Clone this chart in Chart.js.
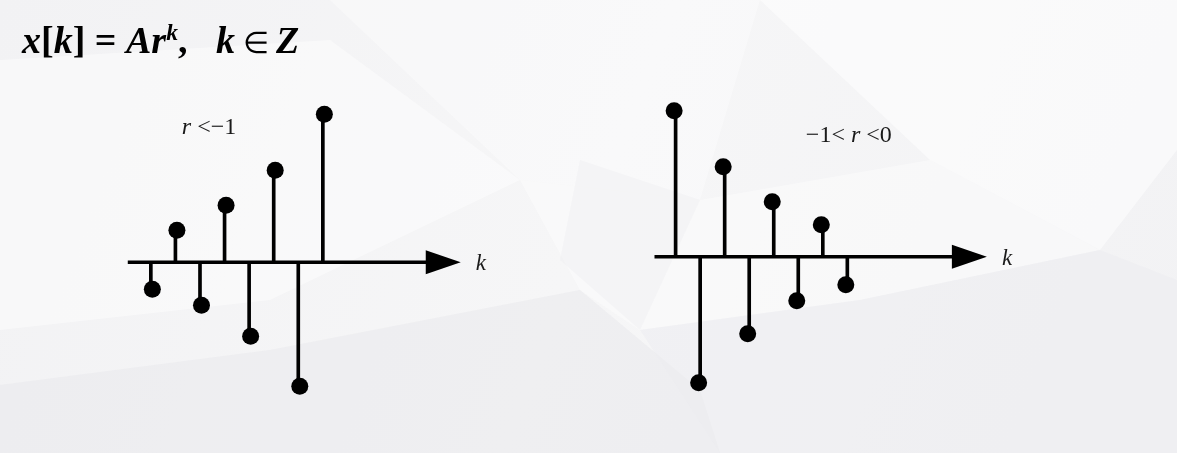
<!DOCTYPE html>
<html>
<head>
<meta charset="utf-8">
<script src="https://cdn.jsdelivr.net/npm/chart.js@4"></script>
<style>
html, body { margin: 0; padding: 0; background: #f2f2f4; overflow: hidden; }
#wrap { width: 1177px; height: 453px; position: relative; }
.txt { position: absolute; font-family: "Liberation Serif"; line-height: 1; white-space: pre; color: #1a1a1a; }
.txt span { font-style: normal; font-weight: normal; }
.txt span.i { font-style: italic; }
.txt span.b { font-weight: bold; }
.txt span.bi { font-style: italic; font-weight: bold; }
.txt span.sup { font-size: 0.62em; position: relative; top: -0.55em; }
.txt span.op { font-size: 0.8em; }
</style>
</head>
<body>
<div id="wrap">
  <canvas id="chart"></canvas>
  <div id="title" class="txt"></div>
  <div id="labelLeft" class="txt"></div>
  <div id="labelRight" class="txt"></div>
  <div id="kLeft" class="txt"></div>
  <div id="kRight" class="txt"></div>
</div>
<script>
// sample index k for both sequences
const kValues = [0, 1, 2, 3, 4, 5, 6, 7];
// x[k] = A r^k (arbitrary units)
const growingValues = [-27, 32, -43, 57, -74, 92, -124, 148];   // r < -1
const decayingValues = [146, -126, 90, -77, 55, -44, 32, -28];  // -1 < r < 0

const growingLabel = [['r', 'i'], [' <\u22121', '']];
const decayingLabel = [['\u22121< ', ''], ['r', 'i'], [' <0', '']];
const axisLabel = [['k', 'i']];

// title: x[k] = Ar^k,   k ∈ Z
const titleParts = [
    ['x', 'bi'], ['[', 'b'], ['k', 'bi'], [']', 'b'], [' = ', 'b'], ['A', 'bi'], ['r', 'bi'],
    ['k', 'bi sup'], [',', 'b'], ['\u2002\u2005', 'b'], ['k', 'bi'], [' \u2208 ', 'op'], ['Z', 'bi']
];

function stemPoints(values) {
    return kValues.map((k, i) => ({ x: k, y: values[i] }));
}

function fillText(id, runs, size) {
    const el = document.getElementById(id);
    el.style.fontSize = size + 'px';
    el.innerHTML = '';
    runs.forEach(([text, cls]) => {
        const s = document.createElement('span');
        s.className = cls;
        s.textContent = text;
        el.appendChild(s);
    });
    return el;
}

// put a text block so that its baseline sits at y
function place(id, x, baseline) {
    const el = document.getElementById(id);
    const size = parseFloat(el.style.fontSize);
    el.style.left = x + 'px';
    el.style.top = (baseline - size * 0.8375) + 'px';
}

fillText('title', titleParts, 38).style.color = '#000';
fillText('labelLeft', growingLabel, 24);
fillText('labelRight', decayingLabel, 24);
fillText('kLeft', axisLabel, 23);
fillText('kRight', axisLabel, 23);
place('title', 22, 53);

const backgroundPlugin = {
    id: 'background',
    beforeDraw(chart) {
        const ctx = chart.ctx;
        const w = chart.width, h = chart.height;
        ctx.save();
        const g = ctx.createLinearGradient(0, 0, w, h);
        g.addColorStop(0, '#f2f2f4');
        g.addColorStop(0.5, '#f6f6f7');
        g.addColorStop(1, '#f2f2f4');
        ctx.fillStyle = g;
        ctx.fillRect(0, 0, w, h);
        const polys = [
            ['rgba(255,255,255,0.45)', [[0, 60], [330, 40], [520, 180], [270, 300], [0, 330]]],
            ['rgba(255,255,255,0.4)', [[520, 180], [700, 200], [930, 160], [1100, 250], [860, 300], [640, 330], [580, 290]]],
            ['rgba(255,255,255,0.5)', [[760, 0], [1177, 0], [1177, 150], [1100, 250], [930, 160]]],
            ['rgba(232,232,236,0.5)', [[0, 385], [270, 350], [580, 290], [700, 390], [720, 453], [0, 453]]],
            ['rgba(236,236,239,0.45)', [[640, 330], [860, 300], [1100, 250], [1177, 280], [1177, 453], [720, 453]]],
            ['rgba(255,255,255,0.35)', [[330, 0], [760, 0], [700, 200], [520, 180]]],
            ['rgba(238,238,241,0.4)', [[580, 160], [700, 200], [640, 330], [560, 260]]]
        ];
        polys.forEach(([color, pts]) => {
            ctx.fillStyle = color;
            ctx.beginPath();
            pts.forEach(([px, py], i) => i ? ctx.lineTo(px, py) : ctx.moveTo(px, py));
            ctx.closePath();
            ctx.fill();
        });
        ctx.restore();
    }
};

const axesPlugin = {
    id: 'stemAxes',
    beforeDatasetsDraw(chart) {
        const ctx = chart.ctx;
        const pairs = [
            { x: chart.scales.xLeft, y: chart.scales.yLeft, from: -1, tip: 12.55, label: 'kLeft' },
            { x: chart.scales.xRight, y: chart.scales.yRight, from: -0.8, tip: 12.75, label: 'kRight' }
        ];
        ctx.save();
        ctx.strokeStyle = '#000';
        ctx.fillStyle = '#000';
        pairs.forEach(p => {
            const y0 = p.y.getPixelForValue(0);
            const x0 = p.x.getPixelForValue(p.from);
            const xt = p.x.getPixelForValue(p.tip);
            ctx.lineWidth = 3.5;
            ctx.beginPath();
            ctx.moveTo(x0, y0);
            ctx.lineTo(xt - 30, y0);
            ctx.stroke();
            ctx.beginPath();
            ctx.moveTo(xt, y0);
            ctx.lineTo(xt - 35, y0 - 12);
            ctx.lineTo(xt - 35, y0 + 12);
            ctx.closePath();
            ctx.fill();
            place(p.label, xt + 15, y0 + 8.3);
        });
        ctx.restore();
        place('labelLeft', chart.scales.xLeft.getPixelForValue(1.2), chart.scales.yLeft.getPixelForValue(127.8));
        place('labelRight', chart.scales.xRight.getPixelForValue(5.37), chart.scales.yRight.getPixelForValue(114.7));
    }
};

new Chart(document.getElementById('chart'), {
    data: {
        datasets: [
            {
                type: 'bar',
                data: stemPoints(growingValues),
                xAxisID: 'xLeft', yAxisID: 'yLeft',
                backgroundColor: '#000',
                barThickness: 3
            },
            {
                type: 'scatter',
                data: stemPoints(growingValues),
                xAxisID: 'xLeft', yAxisID: 'yLeft',
                pointRadius: 8.5,
                pointBackgroundColor: '#000',
                pointBorderWidth: 0
            },
            {
                type: 'bar',
                data: stemPoints(decayingValues),
                xAxisID: 'xRight', yAxisID: 'yRight',
                backgroundColor: '#000',
                barThickness: 3
            },
            {
                type: 'scatter',
                data: stemPoints(decayingValues),
                xAxisID: 'xRight', yAxisID: 'yRight',
                pointRadius: 8.5,
                pointBackgroundColor: '#000',
                pointBorderWidth: 0
            }
        ]
    },
    options: {
        responsive: true,
        maintainAspectRatio: false,
        animation: false,
        events: [],
        layout: { padding: 0, autoPadding: false },
        plugins: {
            legend: { display: false },
            tooltip: { enabled: false }
        },
        scales: {
            xLeft: { type: 'linear', display: false, min: -6.2, max: 41.7, offset: false },
            xRight: { type: 'linear', display: false, min: -27.48, max: 20.5, offset: false },
            yLeft: { type: 'linear', display: false, min: -190.7, max: 262.3 },
            yRight: { type: 'linear', display: false, min: -196.3, max: 256.7 }
        }
    },
    plugins: [backgroundPlugin, axesPlugin]
});
</script>
</body>
</html>
